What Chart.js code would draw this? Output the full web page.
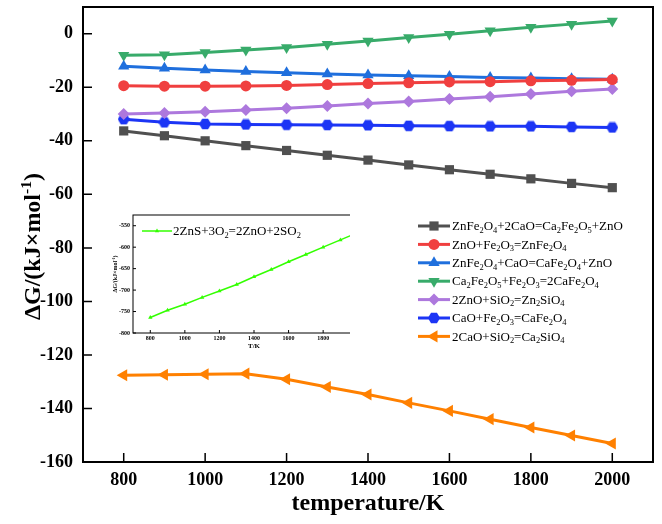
<!DOCTYPE html>
<html>
<head>
<meta charset="utf-8">
<script src="https://cdn.jsdelivr.net/npm/chart.js@4.4.0/dist/chart.umd.min.js"></script>
<style>
    html, body { margin: 0; padding: 0; background: #fff; }
    #wrap { position: relative; width: 662px; height: 524px; }
    #inset-box { position: absolute; left: 108px; top: 208px; width: 242px; height: 145px; overflow: hidden; background: #fff; }
</style>
</head>
<body>
<div id="wrap">
    <canvas id="main" width="662" height="524"></canvas>
    <div id="inset-box"><canvas id="inset" width="272" height="145"></canvas></div>
</div>
<script>
// temperatures (K)
const temperatures = [800, 900, 1000, 1100, 1200, 1300, 1400, 1500, 1600, 1700, 1800, 1900, 2000];

// reaction labels (_{..} = subscript)
const reactionLabels = [
    "ZnFe_{2}O_{4}+2CaO=Ca_{2}Fe_{2}O_{5}+ZnO",
    "ZnO+Fe_{2}O_{3}=ZnFe_{2}O_{4}",
    "ZnFe_{2}O_{4}+CaO=CaFe_{2}O_{4}+ZnO",
    "Ca_{2}Fe_{2}O_{5}+Fe_{2}O_{3}=2CaFe_{2}O_{4}",
    "2ZnO+SiO_{2}=Zn_{2}SiO_{4}",
    "CaO+Fe_{2}O_{3}=CaFe_{2}O_{4}",
    "2CaO+SiO_{2}=Ca_{2}SiO_{4}",
];

// ΔG values, kJ/mol
const dgZnFe2O4Ca2 = [-36.3, -38.1, -40.0, -41.8, -43.6, -45.4, -47.2, -49.0, -50.8, -52.5, -54.2, -55.9, -57.5];
const dgZnOFe2O3 = [-19.4, -19.6, -19.6, -19.5, -19.3, -19.0, -18.6, -18.3, -18.0, -17.9, -17.6, -17.4, -17.1];
const dgZnFe2O4Ca = [-12.1, -12.9, -13.5, -14.1, -14.6, -15.0, -15.4, -15.7, -16.0, -16.3, -16.5, -16.8, -17.0];
const dgCa2Fe2O5 = [-8.0, -7.8, -7.0, -6.1, -5.1, -3.9, -2.7, -1.4, -0.2, 1.1, 2.4, 3.6, 4.8];
const dgZn2SiO4 = [-30.0, -29.6, -29.1, -28.5, -27.8, -27.0, -26.1, -25.3, -24.4, -23.5, -22.5, -21.5, -20.6];
const dgCaFe2O4 = [-31.9, -33.1, -33.7, -33.9, -34.0, -34.1, -34.2, -34.4, -34.5, -34.6, -34.6, -34.8, -35.0];
const dgCa2SiO4 = [-127.6, -127.4, -127.2, -127.0, -129.1, -132.0, -134.8, -137.9, -140.9, -144.0, -147.1, -150.1, -153.1];

const xTicks = [800, 1000, 1200, 1400, 1600, 1800, 2000];
const yTicks = [-160, -140, -120, -100, -80, -60, -40, -20, 0];

// inset: 2ZnS+3O2=2ZnO+2SO2
const insetLabel = "2ZnS+3O_{2}=2ZnO+2SO_{2}";
const insetTemps = [800, 900, 1000, 1100, 1200, 1300, 1400, 1500, 1600, 1700, 1800, 1900, 2000];
const insetValues = [-764, -747, -733, -717, -702, -687, -669, -652, -634, -617, -600, -583, -566];
const insetXTicks = [800, 1000, 1200, 1400, 1600, 1800, 2000];
const insetYTicks = [-800, -750, -700, -650, -600, -550];

const SERIF = '"Liberation Serif", "Times New Roman", serif';

// rich text: _{x} subscript, ^{x} superscript
function parseRich(str) {
    const parts = [];
    const re = /([_^])\{([^}]*)\}/g;
    let last = 0, m;
    while ((m = re.exec(str))) {
        if (m.index > last) parts.push({ text: str.slice(last, m.index), mode: 0 });
        parts.push({ text: m[2], mode: m[1] === "_" ? 1 : 2 });
        last = re.lastIndex;
    }
    if (last < str.length) parts.push({ text: str.slice(last), mode: 0 });
    return parts;
}

function drawRich(ctx, str, x, y, size, weight, align) {
    const parts = parseRich(str);
    const font = (s) => `${weight} ${s}px ${SERIF}`;
    let w = 0;
    parts.forEach((p) => {
        ctx.font = font(p.mode ? size * 0.65 : size);
        p.w = ctx.measureText(p.text).width;
        w += p.w;
    });
    let cx = align === "center" ? x - w / 2 : x;
    ctx.textBaseline = "alphabetic";
    ctx.textAlign = "left";
    parts.forEach((p) => {
        ctx.font = font(p.mode ? size * 0.65 : size);
        const dy = p.mode === 1 ? size * 0.2 : p.mode === 2 ? -size * 0.38 : 0;
        ctx.fillText(p.text, cx, y + dy);
        cx += p.w;
    });
}

function hexagonMarker(color, size) {
    const c = document.createElement("canvas");
    c.width = c.height = size;
    const g = c.getContext("2d");
    g.fillStyle = color;
    g.beginPath();
    for (let i = 0; i < 6; i++) {
        const a = (Math.PI / 3) * i;
        const px = size / 2 + (size / 2) * Math.cos(a);
        const py = size / 2 + (size / 2) * Math.sin(a);
        if (i === 0) g.moveTo(px, py);
        else g.lineTo(px, py);
    }
    g.closePath();
    g.fill();
    return c;
}

// frame around chart area + inward ticks
const frameTicks = {
    id: "frameTicks",
    afterDatasetsDraw(chart, args, opts) {
        const { ctx, chartArea: a, scales } = chart;
        ctx.save();
        ctx.strokeStyle = "#000";
        ctx.lineWidth = opts.lineWidth;
        ctx.strokeRect(a.left, a.top, a.right - a.left, a.bottom - a.top);
        ctx.lineWidth = opts.tickWidth;
        ctx.beginPath();
        scales.x.ticks.forEach((t) => {
            const px = scales.x.getPixelForValue(t.value);
            ctx.moveTo(px, a.bottom);
            ctx.lineTo(px, a.bottom - opts.len);
        });
        scales.y.ticks.forEach((t) => {
            const py = scales.y.getPixelForValue(t.value);
            ctx.moveTo(a.left, py);
            ctx.lineTo(a.left + opts.len, py);
        });
        ctx.stroke();
        ctx.restore();
    },
};

// axis titles and legend with sub/superscripts
const richLabels = {
    id: "richLabels",
    afterDraw(chart, args, opts) {
        const { ctx, chartArea: a } = chart;
        ctx.save();
        ctx.fillStyle = "#000";
        drawRich(ctx, opts.xTitle, (a.left + a.right) / 2, opts.xTitleY, opts.titleSize, "bold", "center");
        ctx.save();
        ctx.translate(opts.yTitleX, (a.top + a.bottom) / 2 + opts.yTitleShift);
        ctx.rotate(-Math.PI / 2);
        drawRich(ctx, opts.yTitle, 0, 0, opts.titleSize, "bold", "center");
        ctx.restore();

        const lg = opts.legend;
        chart.data.datasets.forEach((ds, i) => {
            const y = lg.y + i * lg.rowGap;
            ctx.strokeStyle = ds.borderColor;
            ctx.lineWidth = ds.borderWidth;
            ctx.beginPath();
            ctx.moveTo(lg.x, y);
            ctx.lineTo(lg.x + lg.lineLen, y);
            ctx.stroke();
            ctx.fillStyle = ds.pointBackgroundColor;
            Chart.helpers.drawPoint(ctx, {
                pointStyle: ds.pointStyle,
                rotation: ds.pointRotation || 0,
                radius: ds.pointRadius,
                borderWidth: 0,
            }, lg.x + lg.lineLen / 2, y);
            ctx.fillStyle = "#000";
            drawRich(ctx, ds.label, lg.x + lg.lineLen + 2, y + lg.size * 0.33, lg.size, "normal", "left");
        });
        ctx.restore();
    },
};

const seriesColors = ["#505050", "#f03f3f", "#1f6fdd", "#38ab6a", "#ad78dd", "#1c35f5", "#ff8000"];
const seriesData = [dgZnFe2O4Ca2, dgZnOFe2O3, dgZnFe2O4Ca, dgCa2Fe2O5, dgZn2SiO4, dgCaFe2O4, dgCa2SiO4];
const seriesStyles = [
    { pointStyle: "rect", pointRadius: 6.5 },
    { pointStyle: "circle", pointRadius: 5.5 },
    { pointStyle: "triangle", pointRadius: 6.5 },
    { pointStyle: "triangle", pointRadius: 6.5, pointRotation: 180 },
    { pointStyle: "rectRot", pointRadius: 6 },
    { pointStyle: hexagonMarker("#1c35f5", 12), pointRadius: 6 },
    { pointStyle: "triangle", pointRadius: 7, pointRotation: -90 },
];

const tickFont = { family: SERIF, size: 18, weight: "bold" };

// fixed axis sizes, no label overhang padding
const fixX = (h) => (s) => { s.height = h; s.paddingLeft = 0; s.paddingRight = 0; };
const fixY = (w) => (s) => { s.width = w; s.paddingTop = 0; s.paddingBottom = 0; };

new Chart(document.getElementById("main"), {
    type: "line",
    data: {
        datasets: seriesData.map((vals, i) => ({
            label: reactionLabels[i],
            data: temperatures.map((t, j) => ({ x: t, y: vals[j] })),
            borderColor: seriesColors[i],
            backgroundColor: seriesColors[i],
            pointBackgroundColor: seriesColors[i],
            borderWidth: 3,
            pointBorderWidth: 0,
            tension: 0,
            ...seriesStyles[i],
        })),
    },
    options: {
        responsive: false,
        animation: false,
        devicePixelRatio: 1,
        layout: { padding: { left: 0, right: 9, top: 6, bottom: 0 } },
        plugins: {
            legend: { display: false },
            tooltip: { enabled: false },
            frameTicks: { lineWidth: 2, tickWidth: 1.5, len: 9 },
            richLabels: {
                xTitle: "temperature/K",
                xTitleY: 510,
                yTitle: "ΔG/(kJ×mol^{-1})",
                yTitleX: 40,
                yTitleShift: 12,
                titleSize: 24,
                legend: { x: 418, y: 226, rowGap: 18.4, lineLen: 32, size: 13 },
            },
        },
        scales: {
            x: {
                type: "linear",
                min: 700,
                max: 2100,
                grid: { display: false, drawTicks: false },
                border: { display: false },
                afterBuildTicks: (s) => { s.ticks = xTicks.map((v) => ({ value: v })); },
                afterFit: fixX(62),
                ticks: { font: tickFont, color: "#000", padding: 8, maxRotation: 0, autoSkip: false, callback: (v) => String(v) },
            },
            y: {
                min: -160,
                max: 10,
                grid: { display: false, drawTicks: false },
                border: { display: false },
                afterBuildTicks: (s) => { s.ticks = yTicks.map((v) => ({ value: v })); },
                afterFit: fixY(83),
                ticks: { font: tickFont, color: "#000", padding: 10, autoSkip: false, callback: (v) => String(v) },
            },
        },
    },
    plugins: [frameTicks, richLabels],
});

// inset chart
const insetColor = "#33ff00";
const insetTickFont = { family: SERIF, size: 6, weight: "bold" };

const insetLabels = {
    id: "insetLabels",
    afterDraw(chart) {
        const { ctx, chartArea: a } = chart;
        ctx.save();
        ctx.fillStyle = "#000";
        drawRich(ctx, "T/K", (a.left + a.right) / 2, 140, 7, "bold", "center");
        ctx.translate(9, (a.top + a.bottom) / 2);
        ctx.rotate(-Math.PI / 2);
        drawRich(ctx, "ΔG/(kJ×mol^{-1})", 0, 0, 6, "bold", "center");
        ctx.restore();

        ctx.save();
        const ds = chart.data.datasets[0];
        const y = 23;
        ctx.strokeStyle = insetColor;
        ctx.lineWidth = 1.5;
        ctx.beginPath();
        ctx.moveTo(34, y);
        ctx.lineTo(64, y);
        ctx.stroke();
        ctx.fillStyle = insetColor;
        Chart.helpers.drawPoint(ctx, { pointStyle: "triangle", rotation: 0, radius: 2.5, borderWidth: 0 }, 49, y);
        ctx.fillStyle = "#000";
        drawRich(ctx, ds.label, 65, y + 4.3, 13, "normal", "left");
        ctx.restore();
    },
};

new Chart(document.getElementById("inset"), {
    type: "line",
    data: {
        datasets: [{
            label: insetLabel,
            data: insetTemps.map((t, j) => ({ x: t, y: insetValues[j] })),
            borderColor: insetColor,
            backgroundColor: insetColor,
            pointBackgroundColor: insetColor,
            borderWidth: 1.5,
            pointBorderWidth: 0,
            pointStyle: "triangle",
            pointRadius: 2.5,
        }],
    },
    options: {
        responsive: false,
        animation: false,
        devicePixelRatio: 1,
        layout: { padding: { left: 0, right: 5, top: 7, bottom: 0 } },
        plugins: {
            legend: { display: false },
            tooltip: { enabled: false },
            frameTicks: { lineWidth: 1, tickWidth: 1, len: 3 },
        },
        scales: {
            x: {
                type: "linear",
                min: 700,
                max: 2100,
                grid: { display: false, drawTicks: false },
                border: { display: false },
                afterBuildTicks: (s) => { s.ticks = insetXTicks.map((v) => ({ value: v })); },
                afterFit: fixX(20),
                ticks: { font: insetTickFont, color: "#000", padding: 2, maxRotation: 0, autoSkip: false, callback: (v) => String(v) },
            },
            y: {
                min: -800,
                max: -525,
                grid: { display: false, drawTicks: false },
                border: { display: false },
                afterBuildTicks: (s) => { s.ticks = insetYTicks.map((v) => ({ value: v })); },
                afterFit: fixY(25),
                ticks: { font: insetTickFont, color: "#000", padding: 3, autoSkip: false, callback: (v) => String(v) },
            },
        },
    },
    plugins: [frameTicks, insetLabels],
});
</script>
</body>
</html>
